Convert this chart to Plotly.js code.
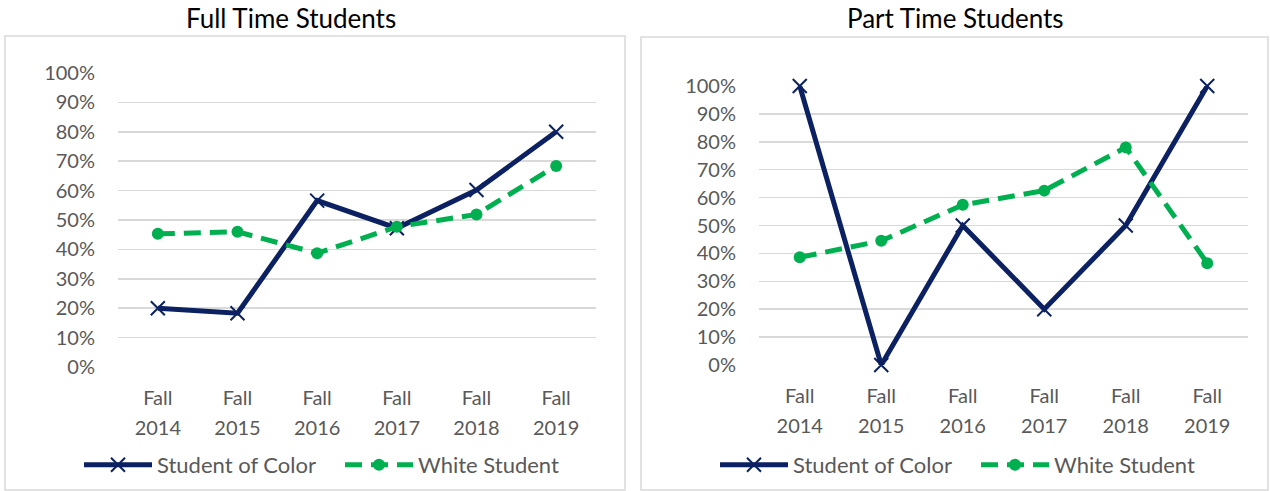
<!DOCTYPE html>
<html>
<head>
<meta charset="utf-8">
<script src="https://cdn.plot.ly/plotly-3.0.1.min.js"></script>
<style>html,body{margin:0;padding:0;background:#fff;}#chart{width:1270px;height:491px;}</style>
</head>
<body>
<div id="chart"></div>
<script>
const categories = ['Fall 2014', 'Fall 2015', 'Fall 2016', 'Fall 2017', 'Fall 2018', 'Fall 2019'];
const tickTop = ['Fall', 'Fall', 'Fall', 'Fall', 'Fall', 'Fall'];
const tickBottom = ['2014', '2015', '2016', '2017', '2018', '2019'];
const seriesNames = ['Student of Color', 'White Student'];
const fullTimeColor = [0.20, 0.183, 0.566, 0.472, 0.602, 0.80];
const fullTimeWhite = [0.453, 0.46, 0.387, 0.477, 0.519, 0.684];
const partTimeColor = [1.00, 0.00, 0.50, 0.20, 0.50, 1.00];
const partTimeWhite = [0.386, 0.445, 0.574, 0.625, 0.78, 0.365];
const yTicks = [0, 0.1, 0.2, 0.3, 0.4, 0.5, 0.6, 0.7, 0.8, 0.9, 1.0];

const NAVY = '#0b2161';
const GREEN = '#00b050';
const FONT = 'Lato, "Open Sans", sans-serif';
const GRAY = '#595959';

function colorTrace(y, xa, ya, leg) {
  return {x: categories, y: y, xaxis: xa, yaxis: ya, name: seriesNames[0], legend: leg,
    type: 'scatter', mode: 'lines+markers', cliponaxis: false,
    line: {color: NAVY, width: 5},
    marker: {symbol: 'x-thin', size: 14, line: {color: NAVY, width: 2}, color: NAVY}};
}
function whiteTrace(y, xa, ya, leg) {
  return {x: categories, y: y, xaxis: xa, yaxis: ya, name: seriesNames[1], legend: leg,
    type: 'scatter', mode: 'lines+markers', cliponaxis: false,
    line: {color: GREEN, width: 5, dash: '17px,9px'},
    marker: {symbol: 'circle', size: 12, color: GREEN}};
}

const data = [
  colorTrace(fullTimeColor, 'x', 'y', 'legend'),
  whiteTrace(fullTimeWhite, 'x3', 'y', 'legend'),
  colorTrace(partTimeColor, 'x2', 'y2', 'legend2'),
  whiteTrace(partTimeWhite, 'x4', 'y2', 'legend2')
];

function catAxis(domain, anchor, labels, standoff, over) {
  const a = {domain: domain, anchor: anchor, type: 'category', range: [-0.5, 5.5],
    categoryorder: 'array', categoryarray: categories,
    tickmode: 'array', tickvals: categories, ticktext: labels,
    showgrid: false, zeroline: false, showline: false, ticks: '',
    ticklabelstandoff: standoff, tickfont: {family: FONT, size: 20, color: GRAY}, fixedrange: true};
  if (over) a.overlaying = over;
  return a;
}
function valAxis(domain, anchor) {
  return {domain: domain, anchor: anchor, range: [0, 1], tickmode: 'array', tickvals: yTicks,
    tickformat: '.0%', showgrid: true, gridcolor: '#d9d9d9', gridwidth: 1.5,
    zeroline: false, showline: false, ticks: '', ticklabelstandoff: 22,
    tickfont: {family: FONT, size: 20, color: GRAY}, fixedrange: true};
}

const xL = [118/1270, 596/1270];
const xR = [759/1270, 1248/1270];
const yL = [1 - 367/491, 1 - 73/491];
const yR = [1 - 365/491, 1 - 86/491];

const legendBase = {orientation: 'h', xanchor: 'center', yanchor: 'middle', y: 1 - 465/491,
  font: {family: FONT, size: 22, color: GRAY}, bgcolor: 'rgba(0,0,0,0)', itemclick: false,
  itemwidth: 68, entrywidth: 178};

const layout = {
  width: 1270, height: 491,
  margin: {l: 0, r: 0, t: 0, b: 0},
  paper_bgcolor: '#ffffff', plot_bgcolor: '#ffffff',
  showlegend: true,
  xaxis: catAxis(xL, 'y', tickTop, 17),
  yaxis: valAxis(yL, 'x'),
  xaxis2: catAxis(xR, 'y2', tickTop, 17),
  yaxis2: valAxis(yR, 'x2'),
  xaxis3: catAxis(xL, 'y', tickBottom, 47, 'x'),
  xaxis4: catAxis(xR, 'y2', tickBottom, 47, 'x2'),
  legend: Object.assign({}, legendBase, {x: 340/1270}),
  legend2: Object.assign({}, legendBase, {x: 976/1270}),
  annotations: [
    {text: 'Full Time Students', xref: 'paper', yref: 'paper', x: 291/1270, y: 1 - 18/491,
     xanchor: 'center', yanchor: 'middle', showarrow: false, font: {family: FONT, size: 26, color: '#000000'}},
    {text: 'Part Time Students', xref: 'paper', yref: 'paper', x: 955/1270, y: 1 - 18/491,
     xanchor: 'center', yanchor: 'middle', showarrow: false, font: {family: FONT, size: 26, color: '#000000'}}
  ],
  shapes: [
    {type: 'rect', xref: 'paper', yref: 'paper', x0: 5/1270, x1: 625/1270, y0: 1 - 490/491, y1: 1 - 36/491,
     line: {color: '#d9d9d9', width: 1.5}, fillcolor: 'rgba(0,0,0,0)', layer: 'below'},
    {type: 'rect', xref: 'paper', yref: 'paper', x0: 641/1270, x1: 1268/1270, y0: 1 - 490/491, y1: 1 - 37/491,
     line: {color: '#d9d9d9', width: 1.5}, fillcolor: 'rgba(0,0,0,0)', layer: 'below'}
  ]
};

Plotly.newPlot('chart', data, layout, {displayModeBar: false, staticPlot: true});
</script>
</body>
</html>
